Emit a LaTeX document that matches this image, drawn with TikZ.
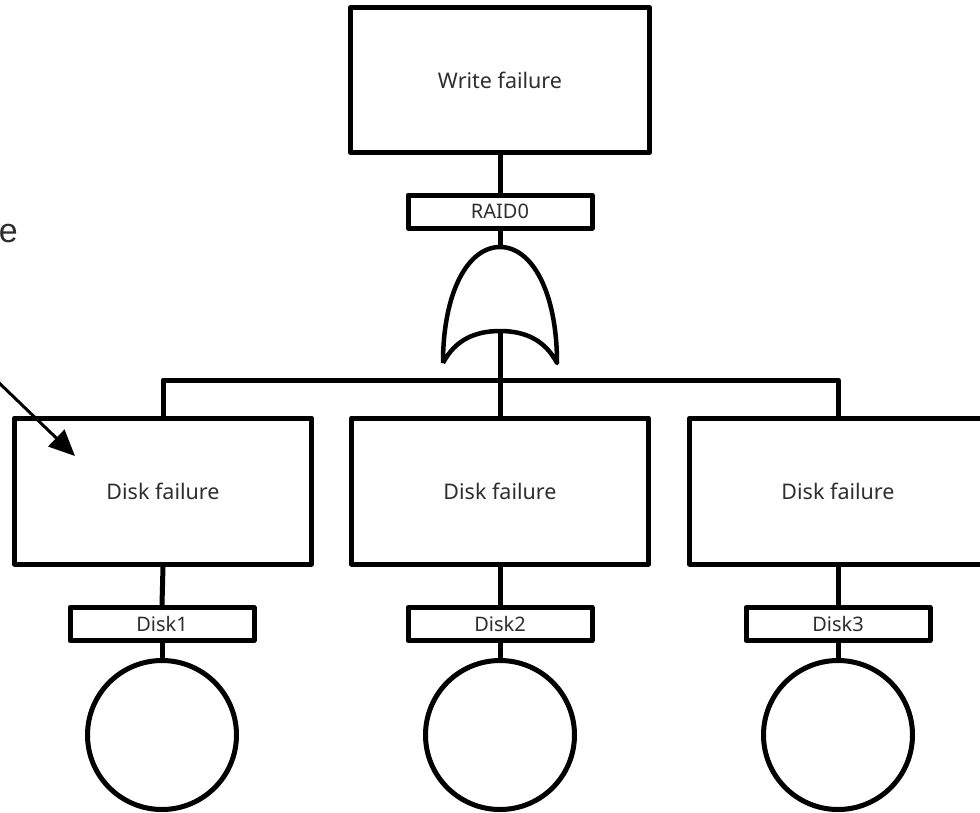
\documentclass[tikz,border=0pt]{standalone}
\usepackage{fontspec}
\setmainfont{Noto Sans}
\newfontfamily\notefont{Liberation Sans}
\usetikzlibrary{arrows.meta}

\definecolor{inkgray}{HTML}{2E2E2E}

\tikzset{
  wire/.style={line width=5pt, line join=round},
  event/.style={draw, wire, fill=white, inner sep=0pt,
    minimum width=297pt, minimum height=146pt,
    text=inkgray, font=\fontsize{21.5}{25}\selectfont},
  tag/.style={draw, wire, fill=white, inner sep=0pt,
    minimum width=184pt, minimum height=33pt,
    text=inkgray, font=\fontsize{20}{23}\selectfont},
  basic/.style={circle, draw, wire, fill=white, inner sep=0pt,
    minimum size=149pt},
  orgate/.style={line width=4.5pt, line join=round, line cap=butt},
  pointer/.style={line width=3pt, -{Triangle[length=26pt, width=23pt]}},
}

\begin{document}
\begin{tikzpicture}[x=1pt, y=-1pt]
  \useasboundingbox (0,0) rectangle (980,812);
  \fill[white] (0,0) rectangle (980,812);
  \clip (0,0) rectangle (980,812);

  % top event and its gate label
  \node[event, minimum width=299pt, minimum height=145pt] (top) at (500,80) {Write failure};
  \node[tag] (raid) at (500,211.5) {RAID0};

  % OR gate
  \coordinate (gtop) at (500,247);
  \coordinate (gin) at (500,331);
  \draw[orgate] (443,363) .. controls (443,292) and (468,247) .. (gtop)
                .. controls (532,247) and (557,292) .. (557,363)
                .. controls (545,340) and (525,331) .. (gin)
                .. controls (475,331) and (455,340) .. (443,363);

  % intermediate events
  \node[event] (d1) at (163,491) {Disk failure};
  \node[event] (d2) at (500,491) {Disk failure};
  \node[event] (d3) at (838,491) {Disk failure};

  % basic events
  \node[tag] (t1) at (162,624) {Disk1};
  \node[tag] (t2) at (500,624) {Disk2};
  \node[tag] (t3) at (838,624) {Disk3};
  \node[basic] (c1) at (162,735) {};
  \node[basic] (c2) at (500,735) {};
  \node[basic] (c3) at (838,735) {};

  % connectors
  \coordinate (bar) at (500,380);
  \draw[wire] (top.south) -- (raid.north);
  \draw[wire] (raid.south) -- (gtop);
  \draw[wire] (gin) -- (d2.north);
  \draw[wire] (d1.north) |- (bar) -| (d3.north);
  \draw[wire] (d1.south) -- (t1.north);
  \draw[wire] (d2.south) -- (t2.north);
  \draw[wire] (d3.south) -- (t3.north);
  \draw[wire] (t1.south) -- (c1.north);
  \draw[wire] (t2.south) -- (c2.north);
  \draw[wire] (t3.south) -- (c3.north);

  % annotation
  \node[anchor=base east, inner sep=0pt, text=inkgray,
        font=\notefont\fontsize{34}{40}\selectfont] (note) at (18,242) {e};
  \coordinate (ptail) at (-6,378);
  \coordinate (ptip) at (75,456);
  \draw[pointer] (ptail) -- (ptip);
\end{tikzpicture}
\end{document}
